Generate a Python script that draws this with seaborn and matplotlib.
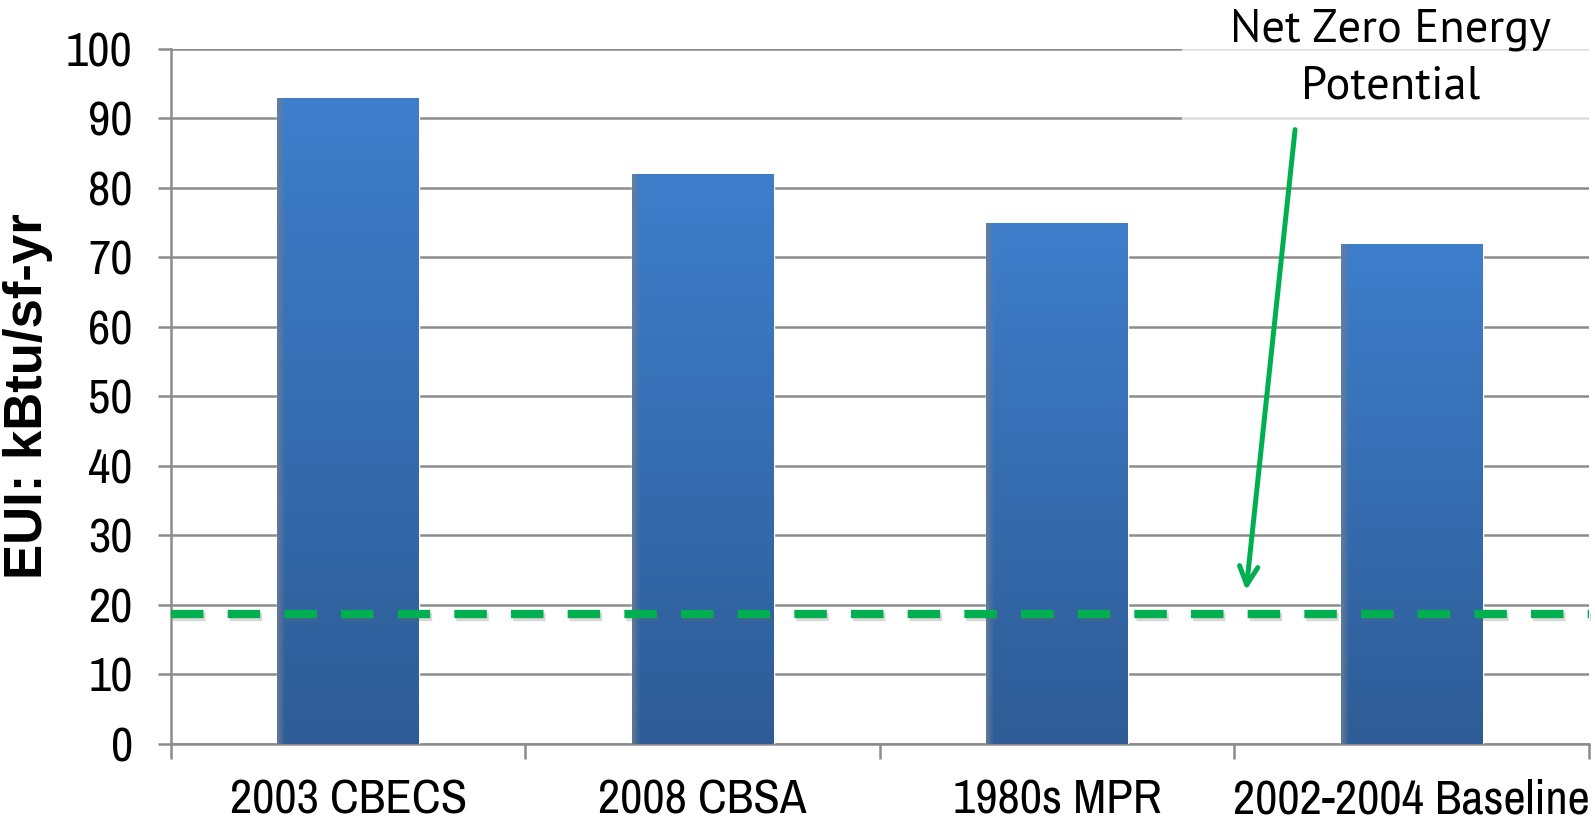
import numpy as np
import pandas as pd
import matplotlib
matplotlib.use("Agg")
import matplotlib.pyplot as plt
import matplotlib.patheffects as pe
from matplotlib.colors import to_rgb
from matplotlib import font_manager
import seaborn as sns

# Energy use intensity by data source
categories = ["2003 CBECS", "2008 CBSA", "1980s MPR", "2002-2004 Baseline"]
eui_values = [93, 82, 75, 72]
net_zero_target = 18.7
y_ticks = [0, 10, 20, 30, 40, 50, 60, 70, 80, 90, 100]
note_lines = ["Net Zero Energy", "Potential"]

df = pd.DataFrame({"source": categories, "eui": eui_values})

sns.set_theme(style="white")
fonts = font_manager.fontManager.ttflist
installed = {f.name for f in fonts}


def pick(candidates, weight=None):
    for name in candidates:
        if weight is None and name in installed:
            return name
        if weight is not None and any(f.name == name and f.weight == weight for f in fonts):
            return name
    return "DejaVu Sans"


narrow = pick(["Liberation Sans Narrow", "Arial Narrow", "Archivo Narrow",
               "Roboto Condensed", "PT Sans Narrow", "IBM Plex Sans Condensed",
               "Liberation Sans"])
humanist = pick(["Source Sans 3", "Source Sans Pro", "PT Sans", "Lato", "Noto Sans"], weight=400)
plt.rcParams["font.family"] = [narrow, "DejaVu Sans"]

fig = plt.figure(figsize=(15.95, 8.22), dpi=100)
ax = fig.add_axes([0.1072, 0.0949, 0.889, 0.8455])

sns.barplot(data=df, x="source", y="eui", ax=ax, width=0.4,
            color="#3B78C4", saturation=1, zorder=3)

# vertical gradient fill with a soft shaded left edge
top_c = np.array(to_rgb("#3E7ECB"))
bot_c = np.array(to_rgb("#2E5C96"))
edge_c = np.array(to_rgb("#6B7D96"))
ny, nx = 200, 60
t = np.linspace(0, 1, ny)[:, None, None]
img = top_c * (1 - t) + bot_c * t
img = np.repeat(img, nx, axis=1)
xs = np.linspace(0, 1, nx)
w = np.clip(1 - xs / 0.05, 0, 1)[None, :, None] * 0.8
img = img * (1 - w) + edge_c * w
for patch in ax.patches:
    x0, y0 = patch.get_x(), patch.get_y()
    bw, bh = patch.get_width(), patch.get_height()
    im = ax.imshow(img, extent=[x0, x0 + bw, y0, y0 + bh], aspect="auto",
                   zorder=3.5, interpolation="bilinear")
    im.set_clip_path(patch)

ax.set_xlim(-0.5, 3.5)
ax.set_ylim(0, 100)
ax.set_yticks(y_ticks)
ax.yaxis.grid(True, color="#8C8C8C", linewidth=1.8, zorder=0)
ax.xaxis.grid(False)

for side in ["top", "right"]:
    ax.spines[side].set_visible(False)
for side in ["left", "bottom"]:
    ax.spines[side].set_color("#8C8C8C")
    ax.spines[side].set_linewidth(1.8)

# category boundary ticks on x, value ticks on y
ax.set_xticks([-0.5, 0.5, 1.5, 2.5, 3.5], minor=True)
ax.set_xticks(range(len(categories)))
ax.set_xticklabels(categories)
ax.tick_params(axis="x", which="major", length=0, labelsize=35, pad=25)
ax.tick_params(axis="x", which="minor", length=11, width=1.8, color="#8C8C8C",
               direction="out", bottom=True)
ax.tick_params(axis="y", length=9.5, width=1.8, color="#8C8C8C", direction="out",
               labelsize=35, pad=18, left=True)
for lab in ax.get_xticklabels() + ax.get_yticklabels():
    lab.set_color("black")

ax.set_xlabel("")
ax.set_ylabel("EUI: kBtu/sf-yr", fontsize=38, fontweight="bold",
              family=["Liberation Sans", "DejaVu Sans"], color="black")
ax.yaxis.label.set_verticalalignment("center")
ax.yaxis.set_label_coords(-0.1005, 0.5)

# net zero energy reference line
ax.axhline(net_zero_target, color="#00B050", linewidth=6, dashes=(3.9, 2.9),
           zorder=5, clip_on=False,
           path_effects=[pe.SimpleLineShadow(offset=(1.5, -2.5), shadow_color="#666666",
                                             alpha=0.25),
                         pe.Normal()])

# annotation box, note and arrow
fig.patches.append(plt.Rectangle((0.741, 0.851), 0.259, 0.149, transform=fig.transFigure,
                                 facecolor="white", alpha=0.72, edgecolor="none", zorder=1))
for line, yb in zip(note_lines, [0.949, 0.8796]):
    fig.text(0.8718, yb, line, ha="center", va="baseline", fontsize=33.5,
             family=[humanist, "DejaVu Sans"], fontweight=400, color="black", zorder=6)
ax.annotate("", xy=(2.533, 22.1), xytext=(2.671, 88.4),
            arrowprops=dict(arrowstyle="->,head_length=1.1,head_width=0.55",
                            color="#00B050", linewidth=3.6, shrinkA=0, shrinkB=0),
            zorder=6, annotation_clip=False)

fig.savefig("out.png", dpi=100)
